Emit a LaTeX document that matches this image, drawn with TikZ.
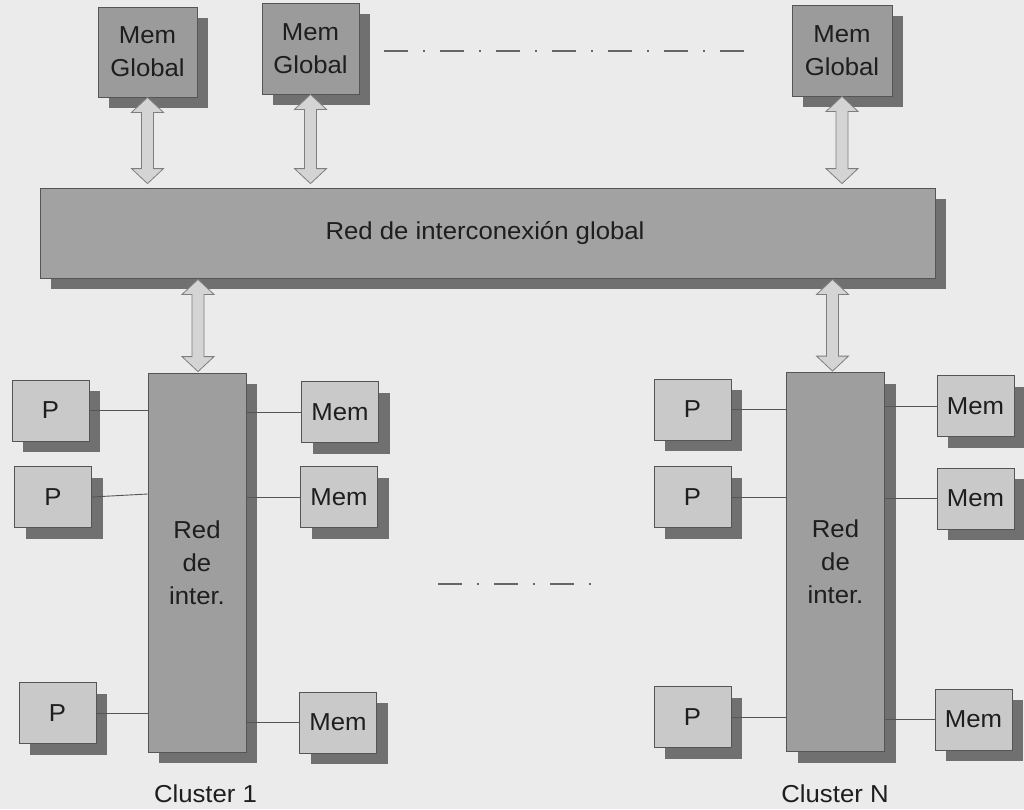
\documentclass[tikz,border=0pt]{standalone}
\usepackage{fontspec}
\setmainfont[FakeStretch=1.05]{Liberation Sans}
\usetikzlibrary{shadows,calc}
\definecolor{bgc}{HTML}{EBEBEB}
\definecolor{mgfill}{HTML}{9B9B9B}
\definecolor{barfill}{HTML}{A2A2A2}
\definecolor{redfill}{HTML}{9E9E9E}
\definecolor{smallfill}{HTML}{C9C9C9}
\definecolor{shadowc}{HTML}{707070}
\definecolor{arrfill}{HTML}{D4D4D4}
\definecolor{arrdraw}{HTML}{7E7E7E}
\definecolor{edgec}{HTML}{555555}
\definecolor{txtc}{HTML}{1E1E1E}
\tikzset{
  box/.style={draw=edgec, line width=0.8pt, inner sep=0pt, align=center,
    font=\fontsize{24.5}{33}\selectfont, text=txtc,
    drop shadow={shadow xshift=11pt, shadow yshift=-11pt, fill=shadowc, opacity=1, draw=none}},
  memglobal/.style={box, fill=mgfill},
  bus/.style={box, fill=barfill},
  rednet/.style={box, fill=redfill, minimum width=98pt, minimum height=379pt},
  small/.style={box, fill=smallfill, minimum width=77pt, minimum height=61pt},
  link/.style={draw=edgec, line width=0.9pt},
  bigarrow/.style={draw=arrdraw, fill=arrfill, line width=0.8pt, line join=miter},
  dashdot/.style={draw=black!60, line width=1.6pt, dash pattern=on 24pt off 15pt on 2pt off 15pt},
  lbl/.style={font=\fontsize{24.5}{33}\selectfont, text=txtc, inner sep=0pt}
}
\newcommand\dblarr[2]{%
  \draw[bigarrow] (#1) -- ($(#1)+(16,15)$) -- ($(#1)+(6,15)$) -- ($(#2)+(6,-15)$)
    -- ($(#2)+(16,-15)$) -- (#2) -- ($(#2)+(-16,-15)$) -- ($(#2)+(-6,-15)$)
    -- ($(#1)+(-6,15)$) -- ($(#1)+(-16,15)$) -- cycle;}
\begin{document}
\begin{tikzpicture}[x=1pt,y=-1pt]
\path[fill=bgc] (0,0) rectangle (1024,809);
\useasboundingbox (0,0) rectangle (1024,809);

% global memories
\node[memglobal, minimum width=99pt, minimum height=90pt] (mg1) at (147.5,52) {Mem\\Global};
\node[memglobal, minimum width=97pt, minimum height=91pt] (mg2) at (310.5,48.5) {Mem\\Global};
\node[memglobal, minimum width=100pt, minimum height=91pt] (mg3) at (842,50.5) {Mem\\Global};

% global bus
\node[bus, minimum width=895pt, minimum height=90pt] (bar) at (487.5,233) {\hspace*{-5pt}Red de interconexión global};

% cluster networks
\node[rednet] (red1) at (197,562.5) {Red\\de\\inter.};
\node[rednet] (red2) at (835.5,562) {Red\\de\\inter.};

% cluster 1
\node[small] (p11) at (50.5,410.5) {P};
\node[small] (p12) at (53,497) {P};
\node[small] (p13) at (57.5,713) {P};
\node[small] (m11) at (340,412) {Mem};
\node[small] (m12) at (339,497) {Mem};
\node[small] (m13) at (338,722.5) {Mem};

% cluster N
\node[small] (p21) at (692.5,409.5) {P};
\node[small] (p22) at (692.5,497) {P};
\node[small] (p23) at (692.5,717) {P};
\node[small] (m21) at (975.5,406) {Mem};
\node[small] (m22) at (975.5,498.5) {Mem};
\node[small] (m23) at (973.5,719.5) {Mem};

% labels
\node[lbl] (c1) at (205.5,794) {Cluster 1};
\node[lbl] (cN) at (835,794) {Cluster N};

% links
\draw[link] (p11.east) -- (p11.east -| red1.west);
\draw[link] (p12.east) -- ($(p12.east -| red1.west)+(0,-3)$);
\draw[link] (p13.east) -- (p13.east -| red1.west);
\draw[link] (m11.west -| red1.east) -- (m11.west);
\draw[link] (m12.west -| red1.east) -- (m12.west);
\draw[link] (m13.west -| red1.east) -- (m13.west);
\draw[link] (p21.east) -- (p21.east -| red2.west);
\draw[link] (p22.east) -- (p22.east -| red2.west);
\draw[link] (p23.east) -- (p23.east -| red2.west);
\draw[link] (m21.west -| red2.east) -- (m21.west);
\draw[link] (m22.west -| red2.east) -- (m22.west);
\draw[link] (m23.west -| red2.east) -- (m23.west);

% double arrows
\coordinate (a1t) at (mg1.south);
\coordinate (a1b) at ($(mg1.south |- bar.north)+(0,-4)$);
\coordinate (a2t) at (mg2.south);
\coordinate (a2b) at ($(mg2.south |- bar.north)+(0,-4)$);
\coordinate (a3t) at (mg3.south);
\coordinate (a3b) at ($(mg3.south |- bar.north)+(0,-4)$);
\coordinate (a4t) at ($(bar.south -| red1.north)+(1,1)$);
\coordinate (a4b) at ($(red1.north)+(1,-1)$);
\coordinate (a5t) at ($(bar.south -| red2.north)+(-3,1)$);
\coordinate (a5b) at ($(red2.north)+(-3,-1)$);
\dblarr{a1t}{a1b}
\dblarr{a2t}{a2b}
\dblarr{a3t}{a3b}
\dblarr{a4t}{a4b}
\dblarr{a5t}{a5b}

% ellipsis lines
\coordinate (d1a) at (384,51);
\coordinate (d1b) at (752,51);
\coordinate (d2a) at (438,584);
\coordinate (d2b) at (597,584);
\draw[dashdot] (d1a) -- (d1b);
\draw[dashdot] (d2a) -- (d2b);
\end{tikzpicture}
\end{document}
